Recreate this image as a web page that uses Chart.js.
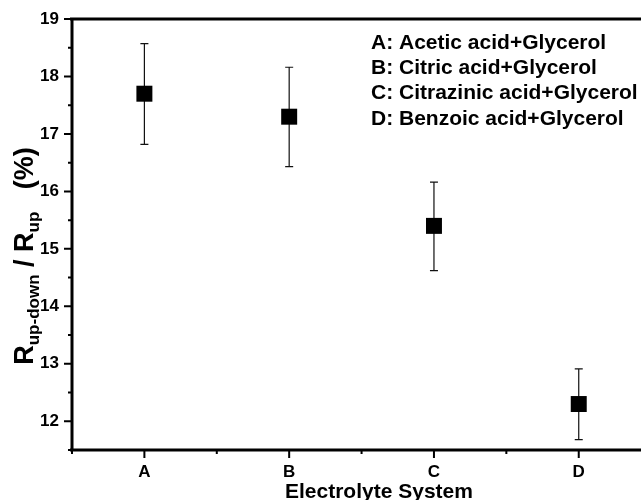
<!DOCTYPE html>
<html>
<head>
<meta charset="utf-8">
<script src="https://cdn.jsdelivr.net/npm/chart.js@4"></script>
<style>
  body { margin: 0; background: #fff; }
  canvas { display: block; }
</style>
</head>
<body>
<canvas id="myChart" width="641" height="500"></canvas>
<script>
// data
var categories = ['A', 'B', 'C', 'D'];
var values = [17.7, 17.3, 15.4, 12.3];
var errUp = [18.57, 18.16, 16.16, 12.91];
var errDown = [16.82, 16.43, 14.62, 11.68];
var yTicks = [12, 13, 14, 15, 16, 17, 18, 19];
var legendLines = [
    'A: Acetic acid+Glycerol',
    'B: Citric acid+Glycerol',
    'C: Citrazinic acid+Glycerol',
    'D: Benzoic acid+Glycerol'
];

var points = values.map(function (v, i) { return { x: i + 1, y: v }; });
var font = '"Liberation Sans", Arial, sans-serif';

// error bars, drawn under the squares
var errorBars = {
    id: 'errorBars',
    beforeDatasetsDraw: function (chart) {
        var c = chart.ctx, xs = chart.scales.x, ys = chart.scales.y;
        c.save();
        c.strokeStyle = '#111';
        c.lineWidth = 1.2;
        for (var i = 0; i < values.length; i++) {
            var x = xs.getPixelForValue(i + 1);
            var t = ys.getPixelForValue(errUp[i]);
            var b = ys.getPixelForValue(errDown[i]);
            c.beginPath();
            c.moveTo(x, t); c.lineTo(x, b);
            c.moveTo(x - 4, t); c.lineTo(x + 4, t);
            c.moveTo(x - 4, b); c.lineTo(x + 4, b);
            c.stroke();
        }
        c.restore();
    }
};

// axis frame, major/minor ticks, titles and the text legend
var frame = {
    id: 'frame',
    afterDraw: function (chart) {
        var c = chart.ctx, a = chart.chartArea;
        var xs = chart.scales.x, ys = chart.scales.y;
        c.save();
        c.strokeStyle = '#000';
        c.lineWidth = 3;
        c.beginPath();
        c.moveTo(a.left, a.top); c.lineTo(a.left, a.bottom + 1);
        c.moveTo(a.left - 2, a.bottom); c.lineTo(641, a.bottom);
        c.moveTo(a.left - 2, a.top); c.lineTo(641, a.top);
        c.stroke();

        c.lineWidth = 2;
        c.beginPath();
        for (var v = 11.5; v <= 19; v += 0.5) {
            var py = ys.getPixelForValue(v);
            var len = (v % 1 === 0) ? 8 : 4;
            c.moveTo(a.left - len, py); c.lineTo(a.left, py);
        }
        for (var k = 0.5; k <= 4; k += 0.5) {
            var px = xs.getPixelForValue(k);
            var l2 = (k % 1 === 0) ? 8 : 4;
            c.moveTo(px, a.bottom); c.lineTo(px, a.bottom + l2);
        }
        c.stroke();

        // x title
        c.fillStyle = '#000';
        c.font = 'bold 21px ' + font;
        c.textAlign = 'left';
        c.textBaseline = 'alphabetic';
        c.fillText('Electrolyte System', 285, 498);

        // y title with subscripts
        var parts = [
            ['R', 27, 0], ['up-down', 17, 6], [' / R', 27, 0], ['up', 17, 6], ['   (%)', 27, 0]
        ];
        var total = 0;
        parts.forEach(function (p) {
            c.font = 'bold ' + p[1] + 'px ' + font;
            total += c.measureText(p[0]).width;
        });
        c.translate(33, 256);
        c.rotate(-Math.PI / 2);
        var cx = -total / 2;
        parts.forEach(function (p) {
            c.font = 'bold ' + p[1] + 'px ' + font;
            c.fillText(p[0], cx, p[2]);
            cx += c.measureText(p[0]).width;
        });
        c.restore();

        // legend text
        c.save();
        c.fillStyle = '#000';
        c.font = 'bold 21px ' + font;
        c.textBaseline = 'middle';
        legendLines.forEach(function (s, i) {
            c.fillText(s, 371, 43 + i * 25.3);
        });
        c.restore();
    }
};

var ctx = document.getElementById('myChart').getContext('2d');
var chart = new Chart(ctx, {
    type: 'scatter',
    data: {
        datasets: [{
            data: points,
            pointStyle: 'rect',
            pointRadius: 11.3,
            pointHoverRadius: 11.3,
            backgroundColor: '#000',
            borderColor: '#000',
            borderWidth: 0,
            clip: false
        }]
    },
    options: {
        responsive: false,
        animation: false,
        events: [],
        layout: { autoPadding: false, padding: { left: 0, top: 19, right: 0, bottom: 0 } },
        plugins: { legend: { display: false }, tooltip: { enabled: false } },
        scales: {
            x: {
                type: 'linear',
                min: 0.5,
                max: 4.43,
                afterBuildTicks: function (s) {
                    s.ticks = categories.map(function (c, i) { return { value: i + 1 }; });
                },
                afterFit: function (s) {
                    s.height = 50;
                    s.paddingLeft = 0;
                    s.paddingRight = 0;
                },
                grid: { display: false, drawTicks: false },
                border: { display: false },
                ticks: {
                    padding: 12,
                    color: '#000',
                    font: { family: font, size: 17, weight: 'bold' },
                    callback: function (v) { return categories[v - 1]; }
                }
            },
            y: {
                min: 11.5,
                max: 19,
                afterBuildTicks: function (s) {
                    s.ticks = yTicks.map(function (t) { return { value: t }; });
                },
                afterFit: function (s) {
                    s.width = 72;
                    s.paddingTop = 0;
                    s.paddingBottom = 0;
                },
                grid: { display: false, drawTicks: false },
                border: { display: false },
                ticks: {
                    padding: 13,
                    color: '#000',
                    font: { family: font, size: 17, weight: 'bold' }
                }
            }
        }
    },
    plugins: [errorBars, frame]
});
</script>
</body>
</html>
